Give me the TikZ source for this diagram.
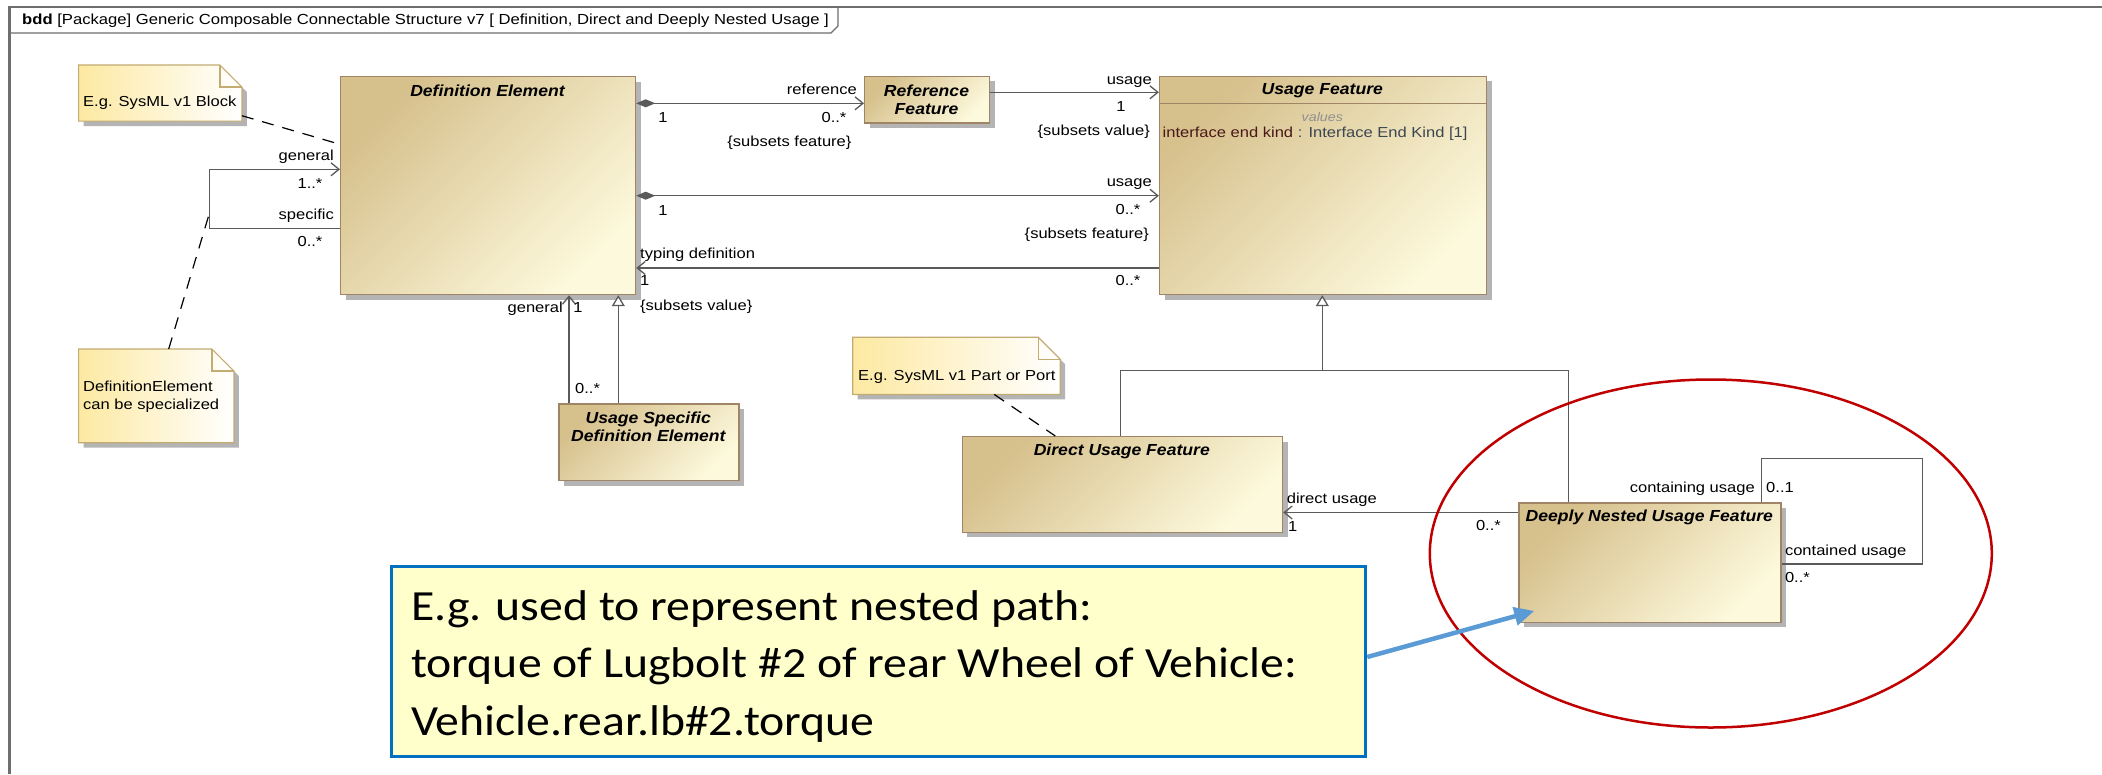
\documentclass[tikz,border=0pt]{standalone}
\usepackage{fontspec}
\setmainfont{Liberation Sans}
\newfontfamily\lblfont[FakeStretch=1.14]{Liberation Sans}
\newfontfamily\ttlfont[FakeStretch=1.1]{Liberation Sans}
\newfontfamily\callfont[FakeStretch=1.11]{Carlito}
\usetikzlibrary{arrows.meta,shadows,calc}
\definecolor{clsA}{HTML}{D6C08C}
\definecolor{clsB}{HTML}{FDF9DC}
\definecolor{clsBorder}{HTML}{A08466}
\definecolor{noteA}{HTML}{FDE9A2}
\definecolor{noteBorder}{HTML}{C2AC72}
\definecolor{shadowc}{HTML}{B4B4B4}
\definecolor{linec}{HTML}{5A5A5A}
\definecolor{framec}{HTML}{6E6E6E}
\definecolor{ellred}{HTML}{C00000}
\definecolor{callblue}{HTML}{0070C0}
\definecolor{arrblue}{HTML}{5B9BD5}
\definecolor{callfill}{HTML}{FFFFCC}
\definecolor{attrname}{HTML}{4A1818}
\definecolor{attrtype}{HTML}{3C4650}
\definecolor{valgray}{HTML}{909090}
\newcommand{\dognote}[1]{%
  \fill[shadowc] ($(#1.north west)+(5,5)$) -- ($(#1.north east)+(-17,5)$) -- ($(#1.north east)+(5,27)$) -- ($(#1.south east)+(5,5)$) -- ($(#1.south west)+(5,5)$) -- cycle;
  \shade[left color=noteA, right color=white] (#1.north west) -- ($(#1.north east)+(-22,0)$) -- ($(#1.north east)+(0,22)$) -- (#1.south east) -- (#1.south west) -- cycle;
  \draw[noteBorder, line width=1.2pt, line join=miter] (#1.north west) -- ($(#1.north east)+(-22,0)$) -- ($(#1.north east)+(0,22)$) -- (#1.south east) -- (#1.south west) -- cycle;
  \draw[noteBorder, line width=1.2pt] ($(#1.north east)+(-22,0)$) -- ($(#1.north east)+(-22,22)$) -- ($(#1.north east)+(0,22)$);
}
\tikzset{
  x=1pt, y=-1pt,
  classbox/.style={draw=clsBorder, line width=1.2pt, top color=clsA, bottom color=clsB, shading angle=45,
    drop shadow={shadow xshift=5pt, shadow yshift=-5pt, fill=shadowc, opacity=1}, inner sep=0pt, anchor=north west},
  noteholder/.style={inner sep=0pt, anchor=north west},
  ttl/.style={font=\ttlfont\bfseries\itshape\fontsize{16}{18.5}\selectfont, align=center, inner sep=0pt},
  lbl/.style={font=\lblfont\fontsize{14.5}{17}\selectfont, inner sep=0pt, text height=10pt, text depth=2.8pt},
  notetxt/.style={font=\lblfont\fontsize{14.5}{18.5}\selectfont, inner sep=0pt, align=left, anchor=west},
  assoc/.style={draw=linec, line width=1.3pt},
  openarrow/.style={-{Straight Barb[length=8pt,width=13pt]}},
  genarrow/.style={-{Triangle[open,length=11pt,width=13pt,fill=white]}},
  comparrow/.style={{Diamond[length=19pt,width=8pt]}-{Straight Barb[length=8pt,width=13pt]}},
  anchorline/.style={draw=black, line width=1.2pt, dash pattern=on 12pt off 9pt},
}
\begin{document}
\begin{tikzpicture}
\useasboundingbox (0,0) rectangle (2102,774);
\fill[white] (0,0) rectangle (2102,774);
% frame
\draw[framec, line width=2.2pt] (9.5,774) -- (9.5,7) -- (2110,7);
\draw[framec, line width=1.2pt] (9.5,33) -- (831,33) -- (838,26) -- (838,7);
\node[anchor=west, inner sep=0pt, font=\lblfont\fontsize{14.6}{16}\selectfont] (tab) at (22,21)
  {\textbf{bdd} [Package] Generic Composable Connectable Structure v7 [ Definition, Direct and Deeply Nested Usage ]};

% class boxes
\node[classbox, minimum width=295pt, minimum height=218pt] (DE) at (340,76) {};
\node[ttl] (DEt) at (487.5,91) {Definition Element};
\node[classbox, minimum width=125pt, minimum height=46.6pt] (RF) at (864,75.7) {};
\node[ttl] (RFt) at (926.5,100) {Reference\\Feature};
\node[classbox, minimum width=327pt, minimum height=218.3pt] (UF) at (1158.9,75.7) {};
\node[ttl] (UFt) at (1322.3,90.7) {Usage Feature};
\draw[clsBorder, line width=1.2pt] (UF.west |- 0,103.3) -- (UF.east |- 0,103.3);
\node[inner sep=0pt, font=\lblfont\itshape\fontsize{12.5}{14}\selectfont, text=valgray] (UFv) at (1322.3,116.7) {values};
\node[lbl, anchor=west] (UFa) at (1162.5,134.3) {\textcolor{attrname}{interface end kind}\ \textcolor{attrtype}{: Interface End Kind [1]}};
\node[classbox, minimum width=180pt, minimum height=76.7pt] (USDE) at (558.3,403.3) {};
\node[ttl] (USDEt) at (648.3,427) {Usage Specific\\Definition Element};
\node[classbox, minimum width=320.4pt, minimum height=95.7pt] (DUF) at (961.6,436) {};
\node[ttl] (DUFt) at (1121.8,451.7) {Direct Usage Feature};
\node[classbox, minimum width=262pt, minimum height=119.4pt] (DNUF) at (1518.3,502.3) {};
\node[ttl] (DNUFt) at (1649.3,517.3) {Deeply Nested Usage Feature};

% notes
\node[noteholder, minimum width=162.9pt, minimum height=55.7pt] (N1) at (78.6,65) {};
\dognote{N1}
\node[notetxt] (N1t) at (83,103) {E.g. SysML v1 Block};
\node[noteholder, minimum width=154.9pt, minimum height=93.3pt] (N2) at (78.6,349) {};
\dognote{N2}
\node[notetxt] (N2t) at (83,396.5) {DefinitionElement\\can be specialized};
\node[noteholder, minimum width=207.1pt, minimum height=56.7pt] (N3) at (852.7,337.3) {};
\dognote{N3}
\node[notetxt] (N3t) at (858,376.7) {E.g. SysML v1 Part or Port};

% connectors
\draw[assoc, comparrow] (DE.east |- 0,103.3) -- (RF.west |- 0,103.3);
\draw[assoc, openarrow] (RF.east |- 0,92.3) -- (UF.west |- 0,92.3);
\draw[assoc, comparrow] (DE.east |- 0,195.7) -- (UF.west |- 0,195.7);
\draw[assoc, openarrow] (UF.west |- 0,268) -- (DE.east |- 0,268);
\draw[assoc, openarrow] (DE.west |- 0,228.3) -- ++(-130.6,0) |- (DE.west |- 0,169.3);
\draw[assoc, openarrow] (USDE.north -| 569,0) -- (DE.south -| 569,0);
\draw[assoc, genarrow] (USDE.north -| 618.3,0) -- (DE.south -| 618.3,0);
\coordinate (gtree) at (1322.3,370.7);
\draw[assoc, genarrow] (DUF.north -| 1120.5,0) |- (gtree) -- (UF.south -| gtree);
\draw[assoc] (DNUF.north -| 1568.3,0) |- (gtree);
\draw[assoc, openarrow] (DNUF.west |- 0,512.5) -- (DUF.east |- 0,512.5);
\draw[assoc] (DNUF.north -| 1761.6,0) |- (1922.3,458.3) |- (DNUF.east |- 0,564);

% note anchors
\coordinate (loopanc) at (209.4,213.3);
\draw[anchorline] (N1.east |- 0,115.7) -- (DE.west |- 0,144.3);
\draw[anchorline] (N2.north -| 168.7,0) -- (loopanc);
\draw[anchorline] (N3.south -| 994.2,0) -- (DUF.north -| 1055.3,0);

% labels
\node[lbl, anchor=east] (L1) at (857,90.7) {reference};
\node[lbl] (L2) at (834,119) {0..*};
\node[lbl] (L3) at (789.4,143.3) {\{subsets feature\}};
\node[lbl] (L4) at (663,119.3) {1};
\node[lbl, anchor=east] (L5) at (1152,80.7) {usage};
\node[lbl] (L6) at (1121,107.7) {1};
\node[lbl, anchor=east] (L7) at (1150,131.7) {\{subsets value\}};
\node[lbl] (L8) at (663,211.7) {1};
\node[lbl, anchor=east] (L9) at (1152,183.3) {usage};
\node[lbl] (L10) at (1128,210.7) {0..*};
\node[lbl, anchor=east] (L11) at (1149,235) {\{subsets feature\}};
\node[lbl, anchor=west] (L12) at (640,255) {typing definition};
\node[lbl, anchor=west] (L13) at (640,282.3) {1};
\node[lbl, anchor=west] (L14) at (640,307.3) {\{subsets value\}};
\node[lbl] (L15) at (1128,282.3) {0..*};
\node[lbl, anchor=east] (L16) at (334,157.3) {general};
\node[lbl] (L17) at (310,185) {1..*};
\node[lbl, anchor=east] (L18) at (334,215.7) {specific};
\node[lbl] (L19) at (310,243.3) {0..*};
\node[lbl, anchor=east] (L20) at (563,309.3) {general};
\node[lbl] (L21) at (578,309.3) {1};
\node[lbl, anchor=west] (L22) at (575,390) {0..*};
\node[lbl, anchor=west] (L23) at (1286.6,500) {direct usage};
\node[lbl, anchor=west] (L24) at (1288,528.3) {1};
\node[lbl] (L25) at (1488.4,527.3) {0..*};
\node[lbl, anchor=east] (L26) at (1755,489.3) {containing usage};
\node[lbl, anchor=west] (L27) at (1766,489.3) {0..1};
\node[lbl, anchor=west] (L28) at (1784.8,551.7) {contained usage};
\node[lbl, anchor=west] (L29) at (1784.8,579.3) {0..*};

% highlight ellipse
\draw[ellred, line width=2.5pt] (1710.8,553.5) ellipse [x radius=281pt, y radius=174pt];

% callout
\node[draw=callblue, line width=3pt, fill=callfill, minimum width=974.4pt, minimum height=190pt, anchor=north west, inner sep=0pt] (CALL) at (389.8,565) {};
\node[anchor=north west, inner sep=0pt, align=left, font=\callfont\fontsize{43}{57.5}\selectfont] (CALLt) at (411,590)
  {E.g. used to represent nested path:\\torque of Lugbolt \#2 of rear Wheel of Vehicle:\\Vehicle.rear.lb\#2.torque};
\draw[arrblue, line width=4.5pt, -{Triangle[length=20pt,width=18pt]}] (CALL.east |- 0,657) -- ($(DNUF.south west)+(16,-12)$);
\end{tikzpicture}
\end{document}
